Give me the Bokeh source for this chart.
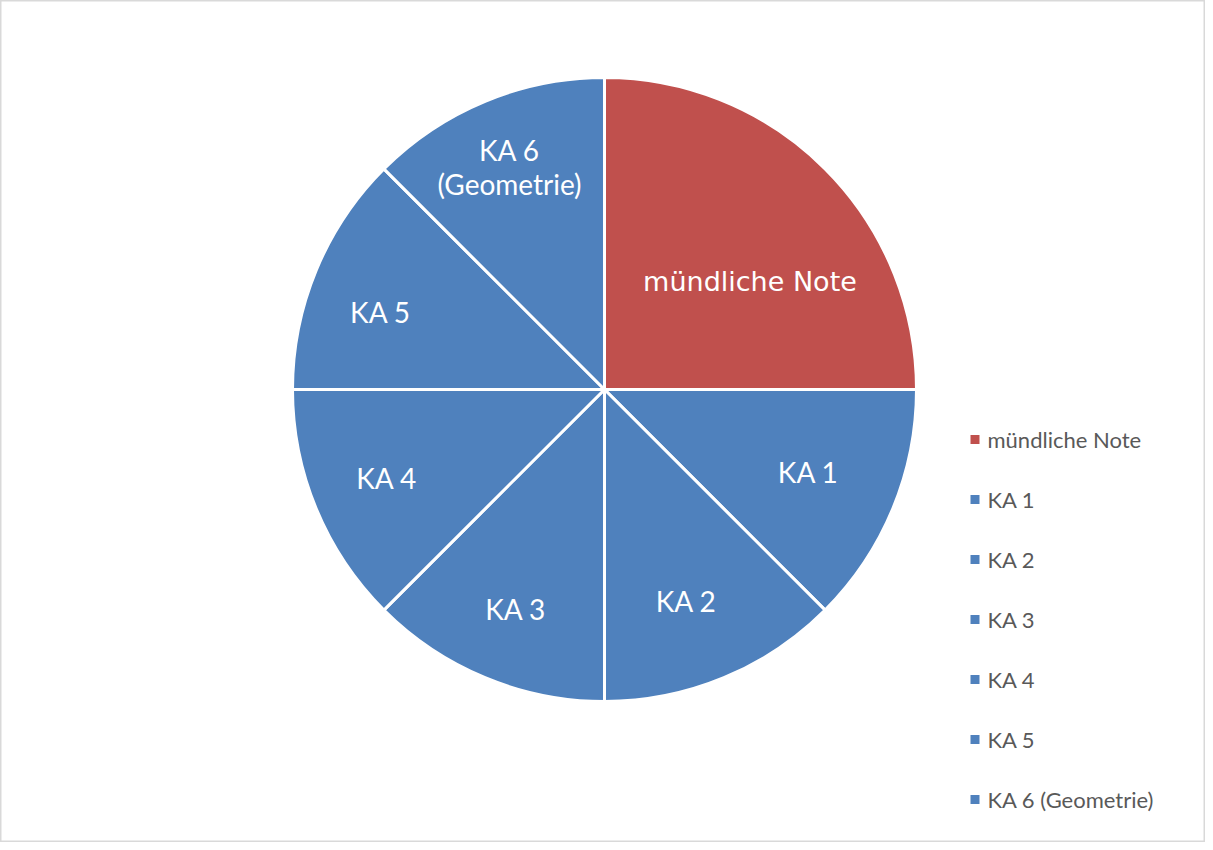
import math
from bokeh.plotting import figure
from bokeh.models import Range1d, ColumnDataSource
from bokeh.core.properties import value
from bokeh.embed import file_html
from bokeh.resources import INLINE

# data
categories = ["mündliche Note", "KA 1", "KA 2", "KA 3", "KA 4", "KA 5", "KA 6 (Geometrie)"]
shares = [25, 12.5, 12.5, 12.5, 12.5, 12.5, 12.5]
colors = ["#C0504D", "#4F81BD", "#4F81BD", "#4F81BD", "#4F81BD", "#4F81BD", "#4F81BD"]

W, H = 1205, 842
p = figure(width=W, height=H, output_backend="svg", toolbar_location=None,
           x_range=Range1d(0, W), y_range=Range1d(0, H), min_border=0)
p.axis.visible = False
p.grid.visible = False
p.outline_line_color = "#d9d9d9"
p.outline_line_width = 2
p.background_fill_color = "white"

cx, cy, R = 604, 453, 312
total = sum(shares)
starts, ends, mids = [], [], []
cum = 0.0
for s in shares:
    a_end = math.pi / 2 - 2 * math.pi * cum / total
    cum += s
    a_start = math.pi / 2 - 2 * math.pi * cum / total
    starts.append(a_start)
    ends.append(a_end)
    mids.append((a_start + a_end) / 2)

src = ColumnDataSource(dict(start=starts, end=ends, color=colors, cat=categories))
p.wedge(x=cx, y=cy, radius=R, start_angle="start", end_angle="end", fill_color="color",
        line_color="white", line_width=3, source=src)

# in-slice label placement (layout: radius fraction and angular nudge in degrees)
lab_r = [0.58, 0.705, 0.728, 0.76, 0.753, 0.76, 0.776]
lab_shift = [-8.5, 0.4, -1.4, 0.5, -0.5, 3.3, 0.6]
lx, ly, lt = [], [], []
for i, c in enumerate(categories):
    a = mids[i] + math.radians(lab_shift[i])
    lx.append(cx + lab_r[i] * R * math.cos(a))
    ly.append(cy + lab_r[i] * R * math.sin(a))
    lt.append(c.replace(" (", "\n("))

p.text(x=lx[:1], y=ly[:1], text=lt[:1], text_color="white", text_font=value("DejaVu Sans"),
       text_font_size="27px", text_align="center", text_baseline="middle")
p.text(x=lx[1:], y=ly[1:], text=lt[1:], text_color="white", text_font=value("Lato"),
       text_font_size="28px", text_align="center", text_baseline="middle",
       text_line_height=1.0)

# legend
leg_x, leg_y0, leg_dy = 974.5, 403, 60
ys = [leg_y0 - i * leg_dy for i in range(len(categories))]
p.scatter(x=[leg_x] * len(categories), y=ys, marker="square", size=9,
          fill_color=colors, line_color=None)
p.text(x=[leg_x + 12.5] * len(categories), y=ys, text=categories, text_color="#595959",
       text_font=value("Lato"), text_font_size="22px", text_align="left", text_baseline="middle")

open("out.html", "w").write(file_html(p, INLINE))
